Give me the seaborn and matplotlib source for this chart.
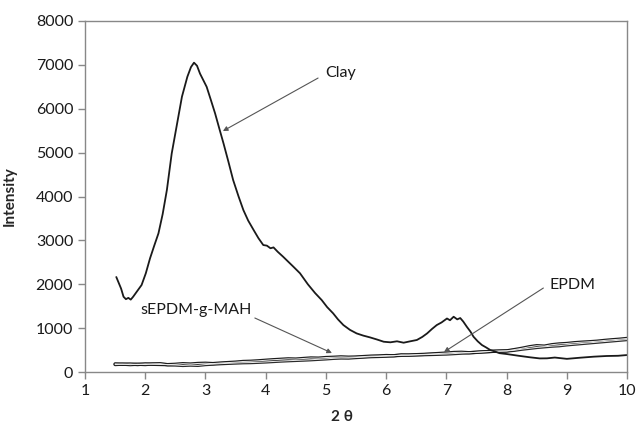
import matplotlib
matplotlib.use("Agg")
import matplotlib.pyplot as plt
import seaborn as sns
import pandas as pd

# ---- data ----
clay_x = [1.52, 1.60, 1.64, 1.68, 1.72, 1.76, 1.80, 1.87, 1.94, 2.01, 2.08, 2.15, 2.22, 2.29,
          2.36, 2.44, 2.52, 2.61, 2.70, 2.76, 2.81, 2.86, 2.91, 3.02, 3.09, 3.16, 3.23,
          3.30, 3.38, 3.46, 3.55, 3.63, 3.71, 3.80, 3.88, 3.96, 4.02, 4.08, 4.13, 4.20,
          4.29, 4.37, 4.46, 4.57, 4.70, 4.82, 4.93, 5.02, 5.12, 5.20, 5.29, 5.40, 5.51,
          5.62, 5.73, 5.85, 5.96, 6.07, 6.18, 6.29, 6.40, 6.51, 6.60, 6.68, 6.76, 6.84,
          6.92, 7.01, 7.06, 7.12, 7.18, 7.23, 7.28, 7.34, 7.40, 7.45, 7.52, 7.59, 7.66,
          7.73, 7.80, 7.88, 8.00, 8.20, 8.39, 8.55, 8.67, 8.80, 9.00, 9.22, 9.45, 9.66,
          9.85, 10.00]
clay_y = [2165, 1900, 1716, 1660, 1690, 1650, 1716, 1850, 1983, 2250, 2590, 2880, 3160, 3600,
          4150, 4980, 5590, 6275, 6730, 6950, 7050, 6980, 6800, 6500, 6200, 5895, 5550,
          5210, 4800, 4375, 4000, 3690, 3450, 3236, 3050, 2894, 2880, 2820, 2840, 2740,
          2627, 2520, 2400, 2250, 2000, 1800, 1640, 1480, 1337, 1200, 1070, 960, 880,
          830, 790, 740, 690, 677, 700, 668, 700, 730, 800, 880, 980, 1070,
          1130, 1220, 1180, 1260, 1200, 1230, 1150, 1030, 920, 805, 700, 615, 560,
          500, 470, 430, 410, 370, 335, 310, 312, 330, 300, 326, 350, 365,
          370, 387]

poly_x = [1.500, 1.625, 1.750, 1.875,
          2.000, 2.125, 2.250, 2.375, 2.500, 2.625, 2.750, 2.875,
          3.000, 3.125, 3.250, 3.375, 3.500, 3.625, 3.750, 3.875,
          4.000, 4.125, 4.250, 4.375, 4.500, 4.625, 4.750, 4.875,
          5.000, 5.125, 5.250, 5.375, 5.500, 5.625, 5.750, 5.875,
          6.000, 6.125, 6.250, 6.375, 6.500, 6.625, 6.750, 6.875,
          7.000, 7.125, 7.250, 7.375, 7.500, 7.625, 7.750, 7.875,
          8.000, 8.125, 8.250, 8.375, 8.500, 8.625, 8.750, 8.875,
          9.000, 9.125, 9.250, 9.375, 9.500, 9.625, 9.750, 9.875,
          10.000]
epdm_y = [185, 175, 182, 170,
          185, 176, 172, 168, 176, 190, 182, 195,
          200, 192, 205, 215, 225, 240, 245, 255,
          268, 280, 290, 300, 295, 308, 320, 316,
          330, 336, 345, 338, 342, 352, 362, 366,
          375, 370, 390, 386, 395, 402, 412, 422,
          432, 445, 450, 440, 448, 462, 470, 476,
          482, 510, 540, 575, 600, 590, 622, 640,
          650, 668, 680, 690, 702, 720, 735, 748,
          765]
sepdm_y = [170, 180, 168, 178,
           170, 185, 190, 165, 160, 150, 158, 152,
           170, 180, 190, 198, 205, 212, 215, 222,
           230, 240, 250, 258, 265, 272, 280, 290,
           300, 312, 320, 318, 330, 340, 350, 355,
           360, 372, 380, 385, 390, 395, 400, 405,
           410, 420, 430, 438, 450, 460, 470, 476,
           480, 495, 520, 540, 560, 575, 590, 600,
           620, 635, 650, 665, 680, 695, 710, 725,
           740]

x_ticks = [1, 2, 3, 4, 5, 6, 7, 8, 9, 10]
y_ticks = [0, 1000, 2000, 3000, 4000, 5000, 6000, 7000, 8000]

sns.set_style("white")
plt.rcParams['font.family'] = ['Lato', 'DejaVu Sans']

fig = plt.figure(figsize=(6.36, 4.24), dpi=100)
ax = fig.add_axes([0.1336, 0.1226, 0.8524, 0.8279])

clay_df = pd.DataFrame({"x": clay_x, "y": clay_y})
poly_df = pd.DataFrame({"x": poly_x, "EPDM": epdm_y, "sEPDM": sepdm_y})

# "hollow" looking polymer traces: dark outline with a light core
for col, c in [("sEPDM", "#2a2a2a"), ("EPDM", "#1c1c1c")]:
    sns.lineplot(data=poly_df, x="x", y=col, ax=ax, color=c, lw=2.4)
for col in ["sEPDM", "EPDM"]:
    sns.lineplot(data=poly_df, x="x", y=col, ax=ax, color="#eeeeee", lw=0.7)
sns.lineplot(data=clay_df, x="x", y="y", ax=ax, color="#1a1a1a", lw=1.3)

ax.set_xlim(1, 10)
ax.set_ylim(0, 8000)
ax.set_xticks(x_ticks)
ax.set_yticks(y_ticks)
ax.tick_params(axis="both", labelsize=11.5, labelcolor="#1a1a1a", length=5, width=1,
               direction="out", color="#888888")
ax.xaxis.set_ticks_position("bottom")
ax.yaxis.set_ticks_position("left")

for s in ax.spines.values():
    s.set_color("#888888")
    s.set_linewidth(1.0)
    s.set_visible(True)

ax.set_xlabel("2 θ", fontsize=11, fontweight="bold")
ax.set_ylabel("Intensity", fontsize=11, fontweight="bold")
ax.xaxis.set_label_coords(0.474, -0.108)
ax.yaxis.set_label_coords(-0.125, 0.5)

arrow = dict(arrowstyle="-|>", color="#555555", lw=0.8, mutation_scale=7,
             shrinkA=0, shrinkB=0)
ax.text(5.25, 6814, "Clay", fontsize=11.5, ha="center", va="center", color="#1a1a1a")
ax.annotate("", xy=(3.29, 5492), xytext=(4.87, 6700), arrowprops=arrow)

ax.text(2.84, 1413, "sEPDM-g-MAH", fontsize=11.5, ha="center", va="center", color="#1a1a1a")
ax.annotate("", xy=(5.10, 433), xytext=(3.82, 1231), arrowprops=arrow)

ax.text(9.09, 1983, "EPDM", fontsize=11.5, ha="center", va="center", color="#1a1a1a")
ax.annotate("", xy=(6.96, 456), xytext=(8.61, 1914), arrowprops=arrow)

fig.savefig("out.png", dpi=100)
